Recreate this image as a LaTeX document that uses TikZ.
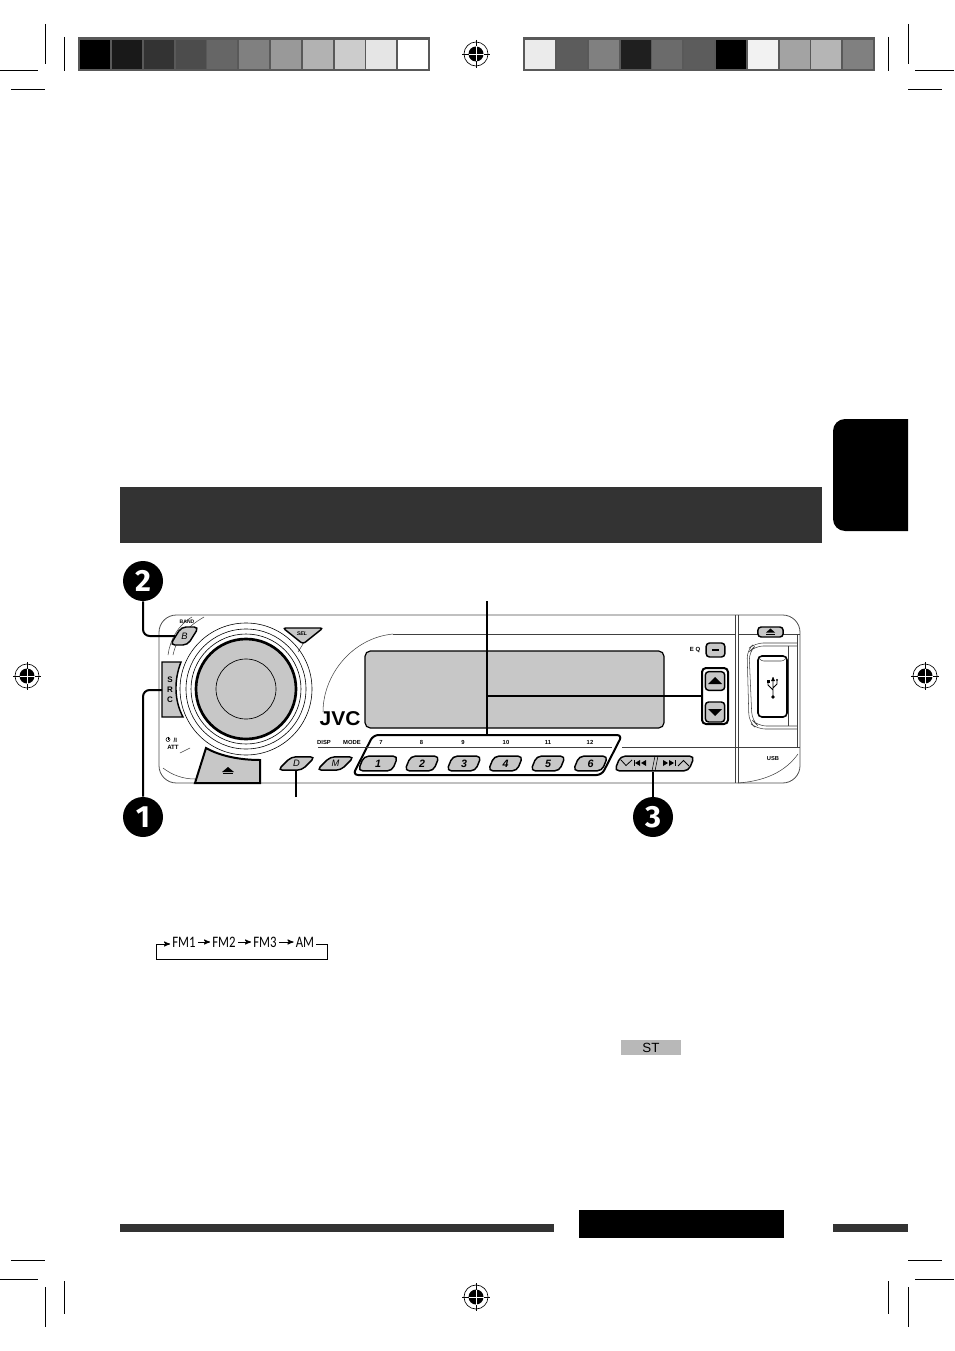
\documentclass[tikz,border=0pt]{standalone}
\usepackage{fontspec}
\setmainfont{Liberation Sans}
\newfontfamily\digitfont{Fira Sans}
\newfontfamily\cyclefont{Carlito}
\usetikzlibrary{arrows,shapes.geometric}
\definecolor{panel}{gray}{0.78}
\definecolor{band}{gray}{0.2}
\tikzset{
	num node/.style={circle,fill=black,text=white,minimum size=30pt,inner sep=0pt,font=\digitfont\fontsize{23}{23}\selectfont\bfseries},
	btn node/.style={trapezium,trapezium left angle=45,trapezium right angle=135,trapezium stretches body=true,draw,fill=panel,line width=1.1pt,rounded corners=3.5pt,inner xsep=0pt,inner ysep=2.5pt,text height=5pt,text depth=0pt,font=\fontsize{7}{7}\selectfont\itshape},
	key node/.style={rectangle,rounded corners=2.5pt,draw,fill=panel,line width=1.1pt,inner sep=0pt},
	tiny text/.style={inner sep=0pt,font=\fontsize{4.4}{5}\selectfont\bfseries},
	crop/.style={line width=0.75pt},
	thin part/.style={line width=0.4pt,black!75},
	lead/.style={line width=1.5pt},
	cycle text/.style={inner sep=1.5pt,font=\cyclefont\fontsize{12}{12}\selectfont},
	cycle line/.style={line width=0.7pt,>=stealth'},
	regmark/.pic={
		\draw[line width=0.5pt] (0,0) circle (12);
		\fill (0,0) circle (7.5);
		\draw[line width=0.5pt] (-14,0) -- (14,0) (0,-14) -- (0,14);
		\draw[white,line width=0.5pt] (-7.5,0) -- (7.5,0) (0,-7.5) -- (0,7.5);
	},
}
\begin{document}
\begin{tikzpicture}[x=0.75pt,y=-0.75pt]
	\useasboundingbox (0,0) rectangle (954,1351);
	
	% crop marks
	\draw[crop] (45,24) -- (45,64) (64,37) -- (64,71) (0,71) -- (38,71) (11,90) -- (45,90);
	\draw[crop] (908,24) -- (908,64) (888,37) -- (888,71) (915,71) -- (954,71) (908,90) -- (942,90);
	\draw[crop] (45,1287) -- (45,1327) (64,1281) -- (64,1314) (0,1279) -- (38,1279) (11,1260) -- (45,1260);
	\draw[crop] (908,1287) -- (908,1327) (888,1281) -- (888,1314) (915,1279) -- (954,1279) (908,1260) -- (942,1260);
	\pic at (476,54) {regmark};
	\pic at (476,1297) {regmark};
	\pic at (27,676) {regmark};
	\pic at (925,676) {regmark};
	
	% colour strips
	\fill[black!65] (78,37) rectangle (430,71);
	\fill[black!65] (523,37) rectangle (875,71);
	\foreach \xa/\g in {80/100,112/90,144/80,176/70,207/60,239/50,271/40,303/30,335/20,366/10,398/0}
		\fill[black!\g] (\xa,40) rectangle ++(30,29);
	\foreach \xa/\g in {525/8,557/64,589/50,621/88,652/58,684/64,716/100,748/5,780/36,811/29,843/50}
		\fill[black!\g] (\xa,40) rectangle ++(30,29);
	
	% tab and bars
	\fill[black] (908,419) [rounded corners=9pt] -- (833,419) -- (833,531) [sharp corners] -- (908,531) -- cycle;
	\fill[band] (120,487) rectangle (822,543);
	\fill[band] (120,1224) rectangle (554,1232);
	\fill[black] (579,1210) rectangle (784,1238);
	\fill[band] (833,1224) rectangle (908,1232);
	
	% face plate
	\draw[line width=0.6pt,black!70,rounded corners=13pt] (159,615) rectangle (800,783);
	\draw[thin part] (393,634) -- (735,634) (738,634) -- (800,634);
	\draw[thin part] (393,634) .. controls (352,638) and (323,675) .. (323,712);
	\draw[thin part] (318,747) -- (366,747) (622,747) -- (800,747);
	\draw[thin part] (735,615) -- (735,783) (738,615) -- (738,783);
	\draw[thin part] (738,783) .. controls (765,781) and (785,772) .. (798,754);
	\draw[thin part] (204,617) .. controls (185,628) and (176,640) .. (173,655);
	\draw[thin part] (192,617) .. controls (178,625) and (170,640) .. (168,655);
	\draw[thin part] (163,768) .. controls (172,775) and (183,779) .. (195,779);
	\draw[thin part] (180,753) -- (190,748);
	\draw[thin part] (303,644) -- (298,652);
	
	% knob
	\foreach \r in {55,60,66}
		\draw[line width=0.45pt] (246,689) circle (\r);
	\draw[line width=2pt,fill=panel] (246,689) circle (50);
	\draw[line width=0.5pt] (246,689) circle (30);
	
	% display and logo
	\draw[line width=0.9pt,fill=panel,rounded corners=4pt] (365,651) rectangle (664,728);
	\node[inner sep=0pt] (logo) at (340,719) {\scalebox{1.05}[1]{\fontsize{15}{15}\selectfont\bfseries JVC}};
	
	% buttons
	\draw[line width=1.1pt,fill=panel] (162,662) -- (181,662) .. controls (174,680) and (174,700) .. (183,717) -- (162,717) -- cycle;
	\node[tiny text,font=\fontsize{6}{7}\selectfont\bfseries,align=center] (src) at (170,690) {S\\[0.6pt]R\\[0.6pt]C};
	\coordinate (srcleft) at (162,690);
	\node[btn node,trapezium left angle=58,trapezium right angle=122,minimum width=12pt,inner ysep=4.25pt] (bandkey) at (184.5,636) {B};
	\draw[line width=1.1pt,fill=panel,rounded corners=2pt] (283,628) -- (323,628) -- (303,644) -- cycle;
	\node[inner sep=0pt,font=\fontsize{4}{4}\selectfont\bfseries\itshape] (sel) at (302,633.5) {SEL};
	\draw[line width=1.5pt,fill=panel] (195,783) -- (260,783) -- (260,760) .. controls (240,760) and (220,756) .. (206,748) -- cycle;
	\fill (222,772) -- (228,767) -- (234,772) -- cycle;
	\draw[line width=0.8pt] (223,773.5) -- (233,773.5);
	\node[btn node,minimum width=28pt] (dkey) at (296.5,763.5) {D};
	\node[btn node,minimum width=28pt] (mkey) at (335.5,763.5) {M};
	
	% presets
	\node[trapezium,trapezium left angle=63,trapezium right angle=117,trapezium stretches body=true,draw,line width=1.5pt,rounded corners=4pt,minimum width=202pt,text height=30pt,text depth=0pt,inner sep=0pt] (presets) at (487.5,755) {\phantom{x}};
	\foreach \name/\xa/\lab in {7/381/7,8/421.5/8,9/463/9,10/506/10,11/548/11,12/590/12}
		\node[tiny text] (top\name) at (\xa,742) {\lab};
	\draw[thin part] (366,747) -- (612,747);
	\foreach \name/\xa/\wid in {1/378/30,2/422/26,3/464/26,4/505.5/26,5/548/26,6/590.5/26}
		\node[btn node,minimum width=\wid pt,inner ysep=2.65pt,text height=5.7pt,trapezium left angle=68,trapezium right angle=112,font=\fontsize{8}{8}\selectfont\bfseries\itshape] (key\name) at (\xa,763.5) {\name};
	
	% right hand controls
	\node[inner sep=0pt,font=\fontsize{4.5}{5}\selectfont\bfseries] (eqtext) at (695,650) {E Q};
	\node[key node,minimum width=14pt,minimum height=10.5pt] (eqkey) at (715.5,650) {};
	\draw[line width=1.1pt] (712,650) -- (719,650);
	\node[rectangle,rounded corners=3pt,draw,line width=1.5pt,minimum width=19.5pt,minimum height=42pt,inner sep=0pt] (updown) at (715,696) {};
	\node[key node,minimum width=14.5pt,minimum height=14pt] (upkey) at (715,681) {};
	\node[key node,minimum width=14.5pt,minimum height=15pt] (downkey) at (715,712) {};
	\fill (715,677) -- (722,684) -- (708,684) -- cycle;
	\fill (715,716) -- (722,709) -- (708,709) -- cycle;
	\node[key node,minimum width=19pt,minimum height=7.5pt] (ejectkey) at (770.5,632) {};
	\fill (770.5,628.5) -- (775,632.5) -- (766,632.5) -- cycle;
	\draw[line width=0.7pt] (766,634.5) -- (775,634.5);
	
	% usb slot
	\draw[thin part,rounded corners=6pt] (797,643) -- (755,643) -- (747,650) -- (749,722) -- (757,729) -- (797,729);
	\draw[thin part,rounded corners=6pt] (797,646) -- (755,646) -- (749,652) -- (752,720) -- (758,726) -- (797,726);
	\draw[thin part] (788,646) -- (788,726) (797,634) -- (797,747);
	\draw[line width=1.2pt,fill=white,rounded corners=3pt] (758,656) rectangle (787,717);
	\draw[thin part,rounded corners=2pt] (759,658) -- (761,661) -- (784,661) -- (786,658);
	\draw[line width=0.7pt] (773,677) -- (773,696) (773,690) -- (768,685) -- (768,682) (773,688) -- (777,684) -- (777,681);
	\fill (773,697) circle (1.8) (773,677) -- (775,681) -- (771,681) -- cycle (777,680) circle (1.2);
	\fill (766.5,680) rectangle (769.5,683);
	\node[tiny text,font=\fontsize{4.3}{5}\selectfont\bfseries] (usbtext) at (773,759) {USB};
	
	% seek button
	\node[trapezium,trapezium left angle=68,trapezium right angle=112,trapezium stretches body=true,draw,fill=panel,line width=1.1pt,rounded corners=3.5pt,minimum width=60pt,text height=11pt,text depth=0pt,inner sep=0pt] (seekkey) at (654.5,763.5) {\phantom{x}};
	\draw[line width=0.6pt] (621,760) -- (626,765.5) -- (632,760);
	\draw[line width=0.6pt] (634,760) -- (634,766);
	\fill (640,760) -- (640,766) -- (635,763) -- cycle (646,760) -- (646,766) -- (641,763) -- cycle;
	\fill (663,760) -- (663,766) -- (668,763) -- cycle (669,760) -- (669,766) -- (674,763) -- cycle;
	\draw[line width=0.6pt] (675,760) -- (675,766);
	\draw[line width=0.6pt] (678,766) -- (683.5,760.5) -- (689,766);
	\draw[line width=0.4pt] (652,771) -- (655,756) (655,771) -- (658,756);
	
	% small labels
	\node[tiny text,font=\fontsize{3.8}{4}\selectfont\bfseries] (band) at (187,622) {BAND};
	\node[tiny text] (disp) at (324,742) {DISP};
	\node[tiny text] (mode) at (352,742) {MODE};
	\node[tiny text,align=center,font=\fontsize{4.6}{5}\selectfont\bfseries] (att) at (173,744) {\phantom{O}/I\\ATT};
	\draw[line width=0.4pt] (168,739.5) circle (2);
	\draw[line width=0.4pt] (168,736.5) -- (168,739.5);
	
	% callouts
	\node[num node] (two) at (143,581) {2};
	\node[num node] (one) at (143,817) {1};
	\node[num node] (three) at (653,817) {3};
	\coordinate (presetlead) at (487,601);
	\coordinate (dlead) at (296,797);
	\draw[lead,rounded corners=5pt] (two) |- (bandkey.west);
	\draw[lead,rounded corners=5pt] (one) |- (srcleft);
	\draw[lead] (three) -- (three |- seekkey.south);
	\draw[lead] (dlead) -- (dlead |- dkey.south);
	\draw[lead] (presetlead) -- (presetlead |- presets.north);
	\draw[lead] (presetlead |- updown.west) -- (updown.west);
	
	% band cycle
	\node[cycle text] (fma) at (184,942) {\scalebox{.8}[1]{FM1}};
	\node[cycle text] (fmb) at (224,942) {\scalebox{.8}[1]{FM2}};
	\node[cycle text] (fmc) at (265,942) {\scalebox{.8}[1]{FM3}};
	\node[cycle text] (am) at (305,942) {\scalebox{.8}[1]{AM}};
	\coordinate (cycleend) at (327,944);
	\coordinate (cyclestart) at (156,944);
	\draw[cycle line,->] (fma) -- (fmb);
	\draw[cycle line,->] (fmb) -- (fmc);
	\draw[cycle line,->] (fmc) -- (am);
	\draw[cycle line,->] (am.east |- cycleend) -- (cycleend) -- (327,959) -- (156,959) -- (cyclestart) -- (fma.west |- cyclestart);
	
	% indicator
	\node[fill=black!28,minimum width=45pt,minimum height=11pt,inner sep=0pt,font=\fontsize{10}{10}\selectfont] (stbox) at (651,1047.5) {ST};
\end{tikzpicture}
\end{document}
